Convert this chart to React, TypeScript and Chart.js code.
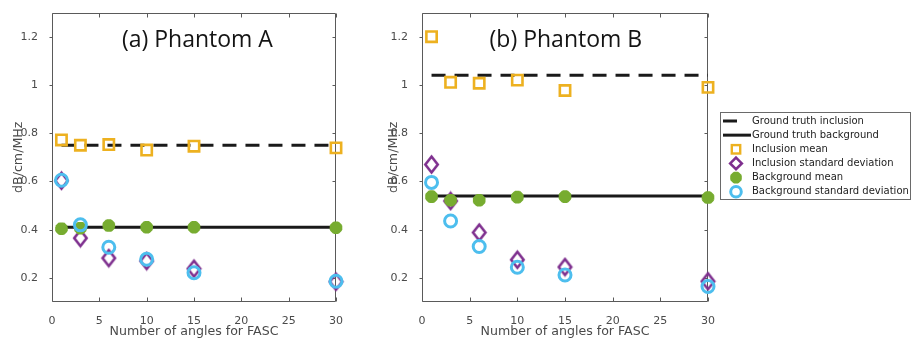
import React, { useEffect, useRef } from "react";
import { Chart, registerables } from "chart.js";
Chart.register(...registerables);

// ---------- data ----------
const angles = [1, 3, 6, 10, 15, 30];
const groundTruthSpan = [1, 30];
const xTickValues = [0, 5, 10, 15, 20, 25, 30];
const yTickValues = [0.2, 0.4, 0.6, 0.8, 1, 1.2];
const legendLabels = [
  "Ground truth inclusion",
  "Ground truth background",
  "Inclusion mean",
  "Inclusion standard deviation",
  "Background mean",
  "Background standard deviation",
];
const panelTitles = ["(a) Phantom A", "(b) Phantom B"];
const xAxisTitle = "Number of angles for FASC";
const yAxisTitle = "dB/cm/MHz";

// Phantom A
const aGroundTruthInclusion = 0.75;
const aGroundTruthBackground = 0.41;
const aInclusionMean = [0.772, 0.75, 0.753, 0.73, 0.746, 0.739];
const aInclusionStd = [0.603, 0.365, 0.282, 0.27, 0.238, 0.184];
const aBackgroundMean = [0.404, 0.406, 0.417, 0.41, 0.41, 0.408];
const aBackgroundStd = [0.605, 0.42, 0.327, 0.277, 0.221, 0.186];

// Phantom B
const bGroundTruthInclusion = 1.04;
const bGroundTruthBackground = 0.54;
const bInclusionMean = [1.2, 1.011, 1.007, 1.02, 0.977, 0.99];
const bInclusionStd = [0.67, 0.519, 0.388, 0.275, 0.245, 0.186];
const bBackgroundMean = [0.537, 0.522, 0.522, 0.535, 0.537, 0.533];
const bBackgroundStd = [0.596, 0.436, 0.33, 0.244, 0.212, 0.164];

// ---------- styles ----------
const ORANGE = "#EDB120";
const PURPLE = "#7E2F8E";
const GREEN = "#77AC30";
const BLUE = "#4DBEEE";
const BLACK = "#1a1a1a";
const AXIS = "#5a5a5a";
const TEXT = "#4a4a4a";
const FONT = "'DejaVu Sans', sans-serif";

function makeDiamond(w: number, h: number, lw: number, color: string) {
  const c = document.createElement("canvas");
  c.width = w;
  c.height = h;
  const ctx = c.getContext("2d")!;
  ctx.strokeStyle = color;
  ctx.lineWidth = lw;
  const py = 2.5;
  const px = 2.3;
  ctx.beginPath();
  ctx.moveTo(w / 2, py);
  ctx.lineTo(w - px, h / 2);
  ctx.lineTo(w / 2, h - py);
  ctx.lineTo(px, h / 2);
  ctx.closePath();
  ctx.stroke();
  return c;
}

function buildDatasets(
  gtInc: number,
  gtBg: number,
  incMean: number[],
  incStd: number[],
  bgMean: number[],
  bgStd: number[]
) {
  const pts = (vals: number[]) => angles.map((a, i) => ({ x: a, y: vals[i] }));
  const span = (v: number) => groundTruthSpan.map((a) => ({ x: a, y: v }));
  const diamond = makeDiamond(17, 21, 2.6, PURPLE);
  return [
    {
      type: "line",
      label: legendLabels[0],
      data: span(gtInc),
      borderColor: BLACK,
      borderWidth: 3,
      borderDash: [14, 9],
      pointRadius: 0,
      showLine: true,
      fill: false,
      order: 10,
      clip: false,
    },
    {
      type: "line",
      label: legendLabels[1],
      data: span(gtBg),
      borderColor: BLACK,
      borderWidth: 3,
      pointRadius: 0,
      showLine: true,
      fill: false,
      order: 9,
      clip: false,
    },
    {
      label: legendLabels[2],
      data: pts(incMean),
      pointStyle: "rect",
      pointRadius: 7.3,
      borderColor: ORANGE,
      backgroundColor: "rgba(0,0,0,0)",
      borderWidth: 2.6,
      order: 4,
      clip: false,
    },
    {
      label: legendLabels[3],
      data: pts(incStd),
      pointStyle: diamond,
      pointRadius: 8,
      borderColor: PURPLE,
      backgroundColor: "rgba(0,0,0,0)",
      order: 3,
      clip: false,
    },
    {
      label: legendLabels[4],
      data: pts(bgMean),
      pointStyle: "star",
      pointRadius: 6.3,
      borderColor: GREEN,
      backgroundColor: GREEN,
      borderWidth: 4.6,
      order: 2,
      clip: false,
    },
    {
      label: legendLabels[5],
      data: pts(bgStd),
      pointStyle: "circle",
      pointRadius: 6,
      borderColor: BLUE,
      backgroundColor: "rgba(0,0,0,0)",
      borderWidth: 3,
      order: 1,
      clip: false,
    },
  ];
}

const framePlugin = {
  id: "frame",
  beforeDatasetsDraw(chart: any) {
    const { ctx, chartArea, scales } = chart;
    const { left, right, top, bottom } = chartArea;
    const L = Math.round(left) + 0.5;
    const R = Math.round(right) - 0.5;
    const T = Math.round(top) + 0.5;
    const B = Math.round(bottom) - 0.5;
    ctx.save();
    ctx.strokeStyle = AXIS;
    ctx.lineWidth = 1;
    ctx.beginPath();
    ctx.moveTo(L, T);
    ctx.lineTo(R, T);
    ctx.lineTo(R, B);
    ctx.lineTo(L, B);
    ctx.closePath();
    for (const v of yTickValues) {
      const py = Math.round(scales.y.getPixelForValue(v)) + 0.5;
      ctx.moveTo(L - 3, py);
      ctx.lineTo(L, py);
      ctx.moveTo(R - 3, py);
      ctx.lineTo(R, py);
    }
    for (const v of xTickValues) {
      const px = Math.round(scales.x.getPixelForValue(v)) + 0.5;
      ctx.moveTo(px, B - 4);
      ctx.lineTo(px, B);
      ctx.moveTo(px, T);
      ctx.lineTo(px, T + 4);
    }
    ctx.stroke();
    ctx.restore();
  },
  afterDraw(chart: any, _args: any, opts: any) {
    const { ctx, chartArea } = chart;
    ctx.save();
    ctx.fillStyle = "#141414";
    ctx.font = "23px 'Open Sans', sans-serif";
    ctx.textAlign = "center";
    ctx.textBaseline = "alphabetic";
    ctx.fillText(
      opts.title,
      chartArea.left + opts.titleFrac * (chartArea.right - chartArea.left),
      46.5
    );
    ctx.restore();

    if (!opts.legend) return;
    const bx = 360.5;
    const by = 112.5;
    const bw = 190;
    const bh = 87;
    ctx.save();
    ctx.fillStyle = "#ffffff";
    ctx.fillRect(bx, by, bw, bh);
    ctx.strokeStyle = "#6a6a6a";
    ctx.lineWidth = 1;
    ctx.strokeRect(bx, by, bw, bh);
    const symX = 376;
    const textX = 392;
    const rowY = (i: number) => 121 + i * 14.15;
    // ground truth inclusion: short dash
    ctx.strokeStyle = BLACK;
    ctx.lineWidth = 3;
    ctx.beginPath();
    ctx.moveTo(363, rowY(0));
    ctx.lineTo(377, rowY(0));
    ctx.stroke();
    // ground truth background: line
    ctx.beginPath();
    ctx.moveTo(363, rowY(1));
    ctx.lineTo(391, rowY(1));
    ctx.stroke();
    // inclusion mean: square
    ctx.strokeStyle = ORANGE;
    ctx.lineWidth = 2.4;
    ctx.strokeRect(symX - 4.2, rowY(2) - 4.2, 8.4, 8.4);
    // inclusion std: diamond
    ctx.strokeStyle = PURPLE;
    ctx.lineWidth = 2.6;
    ctx.beginPath();
    ctx.moveTo(symX, rowY(3) - 5.8);
    ctx.lineTo(symX + 5.8, rowY(3));
    ctx.lineTo(symX, rowY(3) + 5.8);
    ctx.lineTo(symX - 5.8, rowY(3));
    ctx.closePath();
    ctx.stroke();
    // background mean: asterisk blob
    ctx.strokeStyle = GREEN;
    ctx.lineWidth = 4.4;
    ctx.beginPath();
    for (let k = 0; k < 4; k++) {
      const a = (k * Math.PI) / 4;
      const r = 5.8;
      ctx.moveTo(symX - r * Math.cos(a), rowY(4) - r * Math.sin(a));
      ctx.lineTo(symX + r * Math.cos(a), rowY(4) + r * Math.sin(a));
    }
    ctx.stroke();
    // background std: circle
    ctx.strokeStyle = BLUE;
    ctx.lineWidth = 3;
    ctx.beginPath();
    ctx.arc(symX, rowY(5), 5.3, 0, Math.PI * 2);
    ctx.stroke();
    // labels
    ctx.fillStyle = "#222";
    ctx.font = `10px ${FONT}`;
    ctx.textAlign = "left";
    ctx.textBaseline = "middle";
    legendLabels.forEach((t, i) => ctx.fillText(t, textX, rowY(i)));
    ctx.restore();
  },
};

function makeConfig(
  datasets: any[],
  yAxisWidth: number,
  rightPad: number,
  yTitlePad: number,
  title: string,
  titleFrac: number,
  legend: boolean
): any {
  return {
    type: "scatter",
    data: { datasets },
    plugins: [framePlugin],
    options: {
      responsive: false,
      animation: false,
      events: [],
      layout: { padding: { top: 10, right: rightPad, bottom: 0, left: 0 } },
      plugins: {
        legend: { display: false },
        tooltip: { enabled: false },
        frame: { title, titleFrac, legend },
      },
      scales: {
        x: {
          type: "linear",
          min: 0,
          max: 30,
          afterBuildTicks: (s: any) => {
            s.ticks = xTickValues.map((v) => ({ value: v }));
          },
          afterFit: (s: any) => {
            s.height = 37;
          },
          grid: { display: false },
          border: { display: false },
          ticks: {
            color: TEXT,
            font: { family: FONT, size: 11 },
            padding: 5,
            maxRotation: 0,
            callback: (v: any) => String(v),
          },
          title: {
            display: true,
            text: xAxisTitle,
            color: TEXT,
            font: { family: FONT, size: 12.6 },
            padding: { top: 0, bottom: 0 },
          },
        },
        y: {
          type: "linear",
          min: 0.1,
          max: 1.3,
          afterBuildTicks: (s: any) => {
            s.ticks = yTickValues.map((v) => ({ value: v }));
          },
          afterFit: (s: any) => {
            s.width = yAxisWidth;
          },
          grid: { display: false },
          border: { display: false },
          ticks: {
            color: TEXT,
            font: { family: FONT, size: 11 },
            padding: 6,
            callback: (v: any) => String(Number(Number(v).toFixed(2))),
          },
          title: {
            display: true,
            text: yAxisTitle,
            color: TEXT,
            font: { family: FONT, size: 12.6 },
            padding: { top: yTitlePad, bottom: 0 },
          },
        },
      },
    },
  };
}

function Panel({ left, width, build }: { left: number; width: number; build: () => any }) {
  const ref = useRef<HTMLCanvasElement | null>(null);
  useEffect(() => {
    const chart = new Chart(ref.current as HTMLCanvasElement, build());
    return () => chart.destroy();
  }, []);
  return (
    <canvas
      ref={ref}
      width={width}
      height={339}
      style={{ position: "absolute", left, top: 0, width, height: 339, display: "block" }}
    />
  );
}

export default function App() {
  return (
    <div
      style={{
        position: "absolute",
        left: 0,
        top: 0,
        width: 911,
        height: 339,
        background: "#ffffff",
        overflow: "hidden",
      }}
    >
      <Panel
        left={0}
        width={360}
        build={() =>
          makeConfig(
            buildDatasets(
              aGroundTruthInclusion,
              aGroundTruthBackground,
              aInclusionMean,
              aInclusionStd,
              aBackgroundMean,
              aBackgroundStd
            ),
            52,
            24,
            11.5,
            panelTitles[0],
            0.512,
            false
          )
        }
      />
      <Panel
        left={360}
        width={551}
        build={() =>
          makeConfig(
            buildDatasets(
              bGroundTruthInclusion,
              bGroundTruthBackground,
              bInclusionMean,
              bInclusionStd,
              bBackgroundMean,
              bBackgroundStd
            ),
            62,
            203,
            26.4,
            panelTitles[1],
            0.503,
            true
          )
        }
      />
    </div>
  );
}
